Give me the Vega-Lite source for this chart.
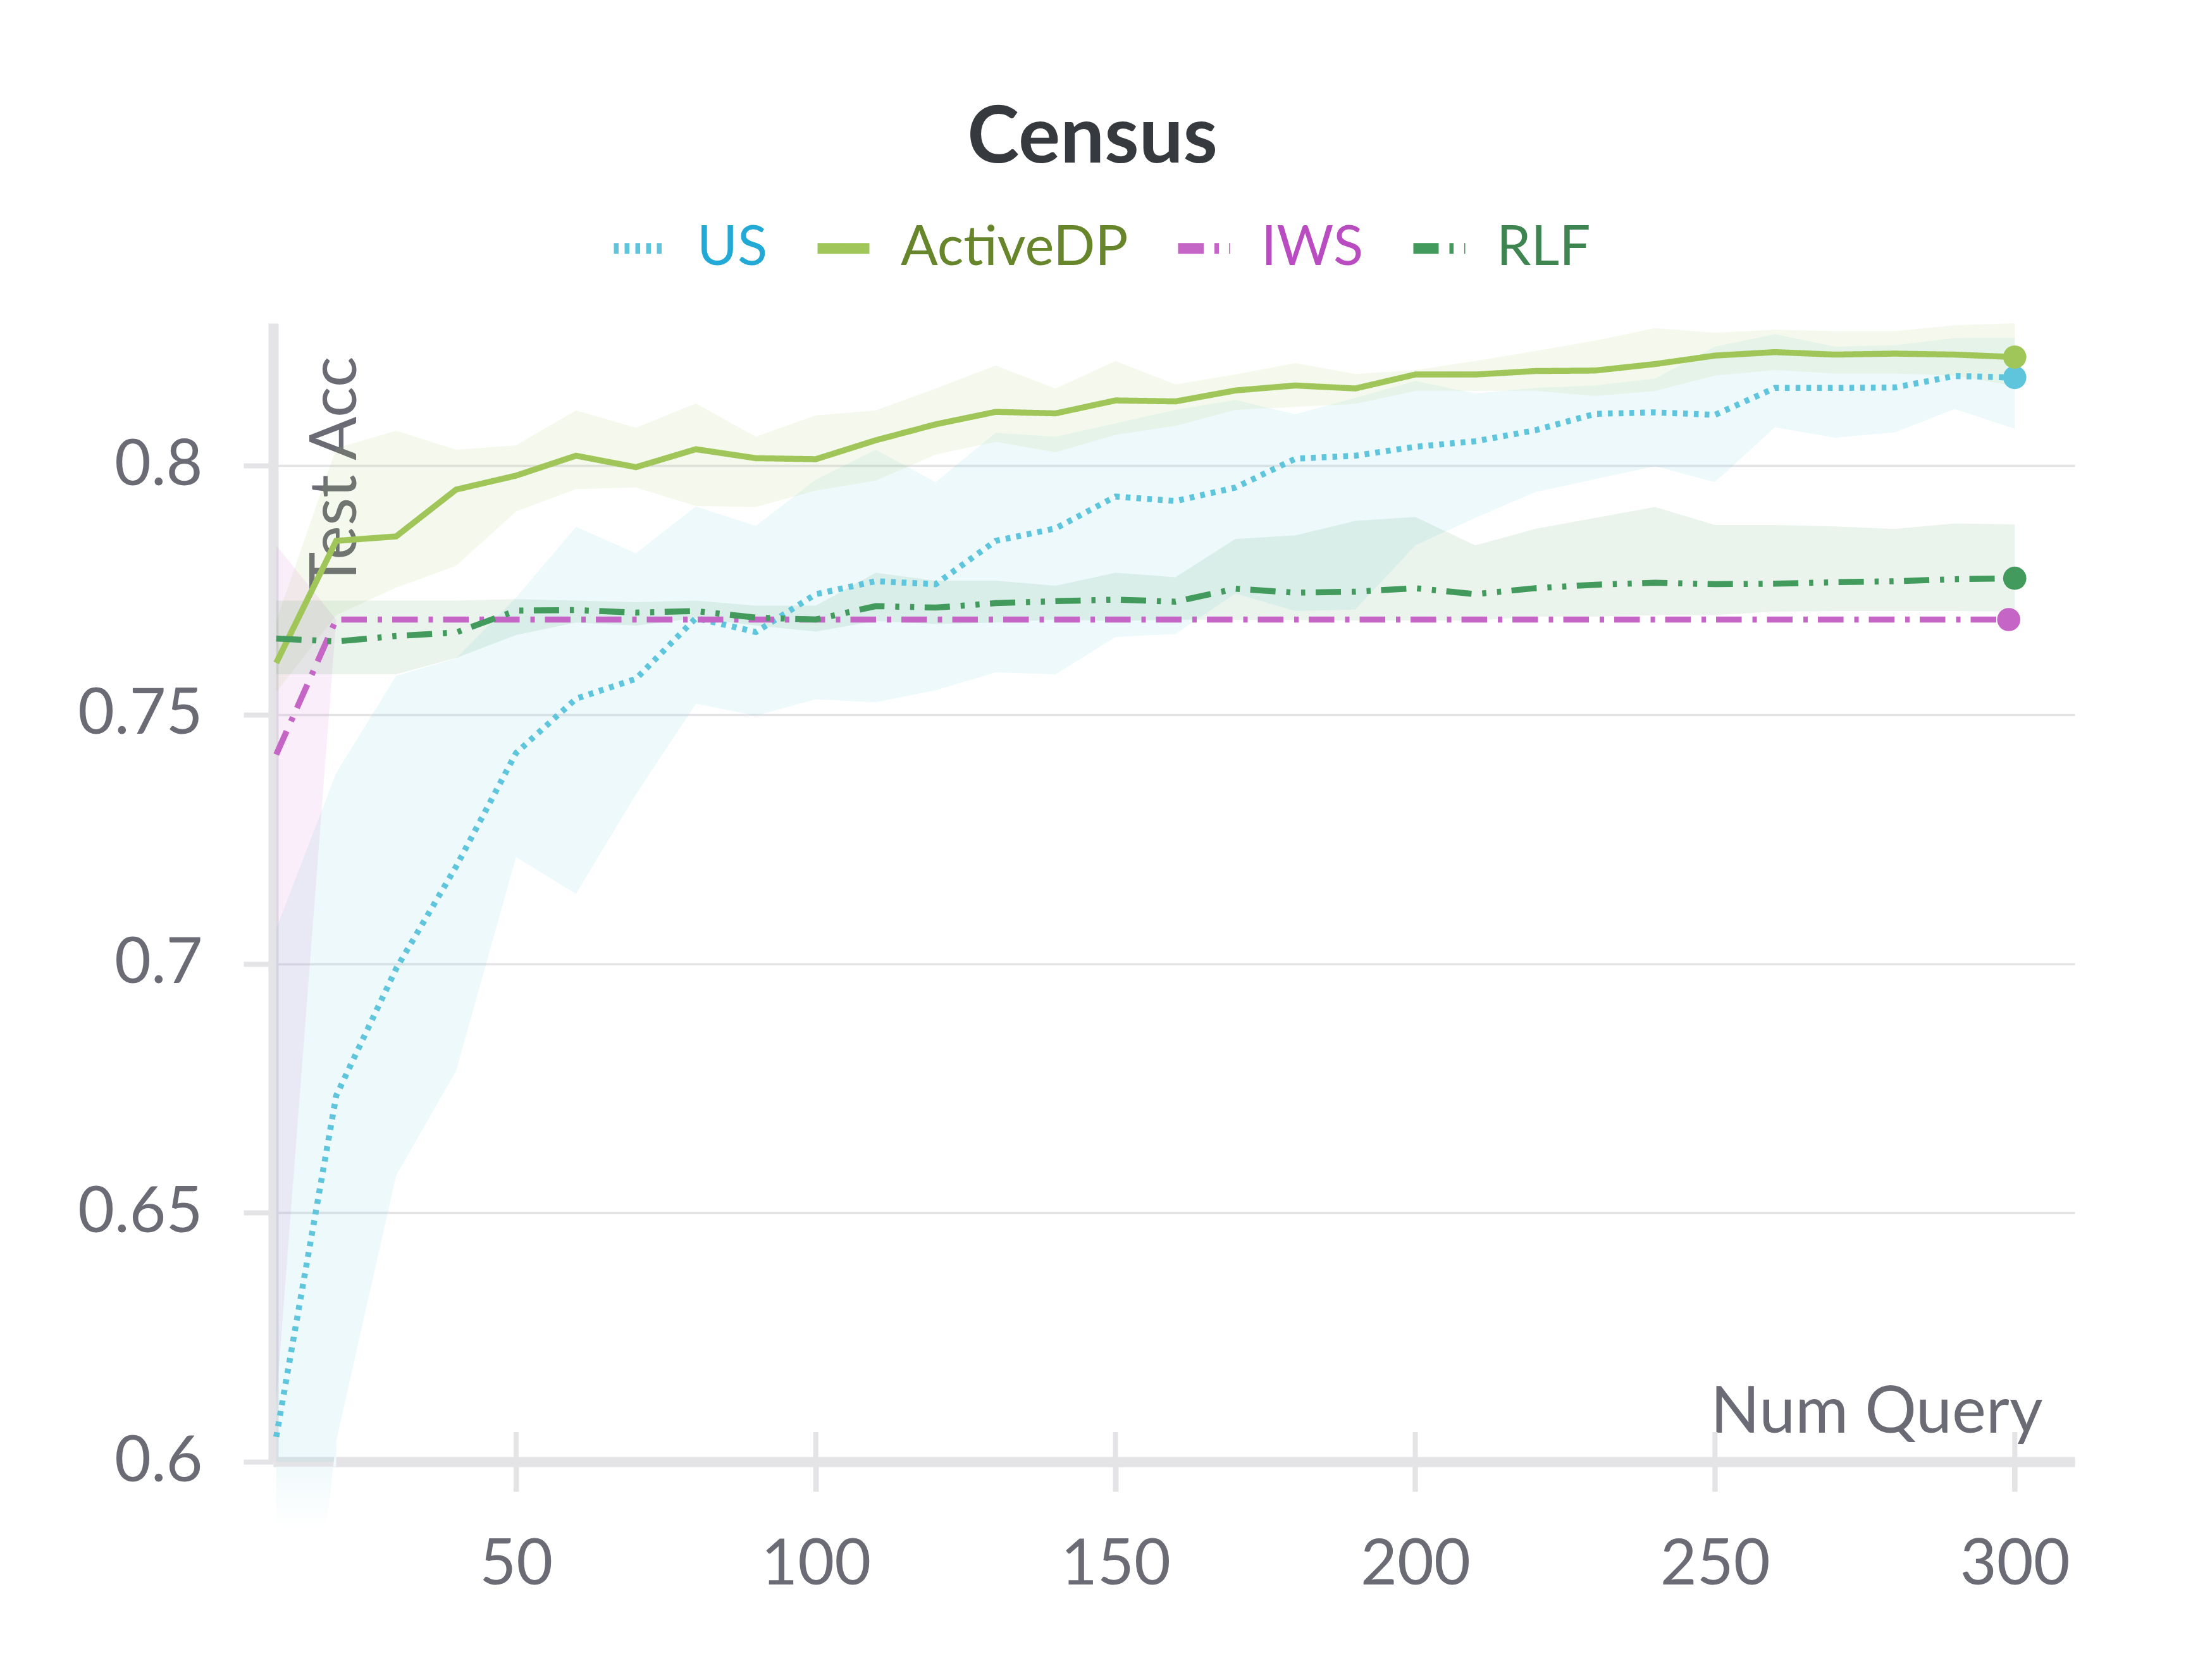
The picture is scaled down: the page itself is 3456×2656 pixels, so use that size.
{
  "$schema": "https://vega.github.io/schema/vega-lite/v6.json",
  "width": 2848,
  "height": 1800,
  "autosize": {"type": "none"},
  "padding": {"left": 432, "top": 511, "right": 176, "bottom": 345},
  "background": "white",
  "title": {"text": "Census", "font": "Lato", "fontSize": 124, "fontWeight": "bold", "color": "#36393d", "anchor": "middle", "frame": "bounds", "offset": 60, "dx": 26},
  "config": {
    "view": {"stroke": null},
    "font": "Lato",
    "axis": {
      "domainColor": "#e4e4e7", "domainWidth": 16,
      "tickColor": "#e4e4e7", "tickWidth": 8, "tickSize": 47,
      "labelFont": "Lato", "labelFontSize": 100, "labelColor": "#6b6b75", "labelLimit": 0,
      "titleFont": "Lato", "titleFontSize": 102, "titleFontWeight": "normal", "titleColor": "#6b6b75",
      "gridColor": "#e4e4e7", "gridWidth": 3.5
    }
  },
  "datasets": {
    "series": [
      {"method": "US", "q": 10, "acc": 0.605, "lo": 0.50, "hi": 0.707},
      {"method": "US", "q": 20, "acc": 0.6735, "lo": 0.6042, "hi": 0.7383},
      {"method": "US", "q": 30, "acc": 0.699, "lo": 0.6575, "hi": 0.7578},
      {"method": "US", "q": 40, "acc": 0.7195, "lo": 0.6785, "hi": 0.7613},
      {"method": "US", "q": 50, "acc": 0.7423, "lo": 0.7214, "hi": 0.7735},
      {"method": "US", "q": 60, "acc": 0.7532, "lo": 0.714, "hi": 0.7877},
      {"method": "US", "q": 70, "acc": 0.7572, "lo": 0.734, "hi": 0.7824},
      {"method": "US", "q": 80, "acc": 0.7694, "lo": 0.7522, "hi": 0.7918},
      {"method": "US", "q": 90, "acc": 0.7666, "lo": 0.7498, "hi": 0.7879},
      {"method": "US", "q": 100, "acc": 0.7742, "lo": 0.7531, "hi": 0.7972},
      {"method": "US", "q": 110, "acc": 0.7768, "lo": 0.7525, "hi": 0.8032},
      {"method": "US", "q": 120, "acc": 0.7762, "lo": 0.7549, "hi": 0.7967},
      {"method": "US", "q": 130, "acc": 0.7849, "lo": 0.7585, "hi": 0.8066},
      {"method": "US", "q": 140, "acc": 0.7874, "lo": 0.7581, "hi": 0.8058},
      {"method": "US", "q": 150, "acc": 0.7938, "lo": 0.7656, "hi": 0.8085},
      {"method": "US", "q": 160, "acc": 0.7929, "lo": 0.7662, "hi": 0.8112},
      {"method": "US", "q": 170, "acc": 0.7956, "lo": 0.7743, "hi": 0.8132},
      {"method": "US", "q": 180, "acc": 0.8014, "lo": 0.7708, "hi": 0.8103},
      {"method": "US", "q": 190, "acc": 0.802, "lo": 0.7711, "hi": 0.8136},
      {"method": "US", "q": 200, "acc": 0.8038, "lo": 0.784, "hi": 0.817},
      {"method": "US", "q": 210, "acc": 0.8049, "lo": 0.7895, "hi": 0.8145},
      {"method": "US", "q": 220, "acc": 0.8071, "lo": 0.7947, "hi": 0.8156},
      {"method": "US", "q": 230, "acc": 0.8104, "lo": 0.7973, "hi": 0.8161},
      {"method": "US", "q": 240, "acc": 0.8107, "lo": 0.7999, "hi": 0.8175},
      {"method": "US", "q": 250, "acc": 0.8102, "lo": 0.7967, "hi": 0.8239},
      {"method": "US", "q": 260, "acc": 0.8156, "lo": 0.8077, "hi": 0.8264},
      {"method": "US", "q": 270, "acc": 0.8156, "lo": 0.8056, "hi": 0.8239},
      {"method": "US", "q": 280, "acc": 0.8157, "lo": 0.8067, "hi": 0.8242},
      {"method": "US", "q": 290, "acc": 0.818, "lo": 0.8114, "hi": 0.8256},
      {"method": "US", "q": 300, "acc": 0.8177, "lo": 0.8074, "hi": 0.8257},

      {"method": "ActiveDP", "q": 10, "acc": 0.7604, "lo": 0.7545, "hi": 0.7688},
      {"method": "ActiveDP", "q": 20, "acc": 0.7849, "lo": 0.77, "hi": 0.8035},
      {"method": "ActiveDP", "q": 30, "acc": 0.7858, "lo": 0.7755, "hi": 0.807},
      {"method": "ActiveDP", "q": 40, "acc": 0.7952, "lo": 0.7799, "hi": 0.8032},
      {"method": "ActiveDP", "q": 50, "acc": 0.798, "lo": 0.7908, "hi": 0.8041},
      {"method": "ActiveDP", "q": 60, "acc": 0.802, "lo": 0.7953, "hi": 0.8111},
      {"method": "ActiveDP", "q": 70, "acc": 0.7997, "lo": 0.7956, "hi": 0.8076},
      {"method": "ActiveDP", "q": 80, "acc": 0.8033, "lo": 0.7919, "hi": 0.8125},
      {"method": "ActiveDP", "q": 90, "acc": 0.8015, "lo": 0.7917, "hi": 0.8058},
      {"method": "ActiveDP", "q": 100, "acc": 0.8013, "lo": 0.795, "hi": 0.8101},
      {"method": "ActiveDP", "q": 110, "acc": 0.8051, "lo": 0.797, "hi": 0.8111},
      {"method": "ActiveDP", "q": 120, "acc": 0.8083, "lo": 0.8022, "hi": 0.8155},
      {"method": "ActiveDP", "q": 130, "acc": 0.8108, "lo": 0.8048, "hi": 0.8201},
      {"method": "ActiveDP", "q": 140, "acc": 0.8105, "lo": 0.8027, "hi": 0.8155},
      {"method": "ActiveDP", "q": 150, "acc": 0.8131, "lo": 0.8062, "hi": 0.821},
      {"method": "ActiveDP", "q": 160, "acc": 0.8129, "lo": 0.808, "hi": 0.8163},
      {"method": "ActiveDP", "q": 170, "acc": 0.8151, "lo": 0.8112, "hi": 0.8183},
      {"method": "ActiveDP", "q": 180, "acc": 0.8161, "lo": 0.8118, "hi": 0.8206},
      {"method": "ActiveDP", "q": 190, "acc": 0.8155, "lo": 0.8124, "hi": 0.8184},
      {"method": "ActiveDP", "q": 200, "acc": 0.8183, "lo": 0.815, "hi": 0.8192},
      {"method": "ActiveDP", "q": 210, "acc": 0.8183, "lo": 0.815, "hi": 0.821},
      {"method": "ActiveDP", "q": 220, "acc": 0.819, "lo": 0.815, "hi": 0.823},
      {"method": "ActiveDP", "q": 230, "acc": 0.8191, "lo": 0.814, "hi": 0.8251},
      {"method": "ActiveDP", "q": 240, "acc": 0.8204, "lo": 0.815, "hi": 0.8276},
      {"method": "ActiveDP", "q": 250, "acc": 0.8221, "lo": 0.8181, "hi": 0.8267},
      {"method": "ActiveDP", "q": 260, "acc": 0.8228, "lo": 0.8192, "hi": 0.8273},
      {"method": "ActiveDP", "q": 270, "acc": 0.8223, "lo": 0.8185, "hi": 0.827},
      {"method": "ActiveDP", "q": 280, "acc": 0.8225, "lo": 0.8185, "hi": 0.827},
      {"method": "ActiveDP", "q": 290, "acc": 0.8223, "lo": 0.8181, "hi": 0.8282},
      {"method": "ActiveDP", "q": 300, "acc": 0.8218, "lo": 0.816, "hi": 0.8286},

      {"method": "IWS", "q": 10, "acc": 0.742, "lo": 0.612, "hi": 0.784},
      {"method": "IWS", "q": 20, "acc": 0.7691, "lo": 0.7691, "hi": 0.7691},
      {"method": "IWS", "q": 30, "acc": 0.7691, "lo": 0.7691, "hi": 0.7691},
      {"method": "IWS", "q": 40, "acc": 0.7691, "lo": 0.7691, "hi": 0.7691},
      {"method": "IWS", "q": 50, "acc": 0.7691, "lo": 0.7691, "hi": 0.7691},
      {"method": "IWS", "q": 60, "acc": 0.7691, "lo": 0.7691, "hi": 0.7691},
      {"method": "IWS", "q": 70, "acc": 0.7691, "lo": 0.7691, "hi": 0.7691},
      {"method": "IWS", "q": 80, "acc": 0.7691, "lo": 0.7691, "hi": 0.7691},
      {"method": "IWS", "q": 90, "acc": 0.7691, "lo": 0.7691, "hi": 0.7691},
      {"method": "IWS", "q": 100, "acc": 0.7691, "lo": 0.7691, "hi": 0.7691},
      {"method": "IWS", "q": 110, "acc": 0.7691, "lo": 0.7691, "hi": 0.7691},
      {"method": "IWS", "q": 120, "acc": 0.7691, "lo": 0.7691, "hi": 0.7691},
      {"method": "IWS", "q": 130, "acc": 0.7691, "lo": 0.7691, "hi": 0.7691},
      {"method": "IWS", "q": 140, "acc": 0.7691, "lo": 0.7691, "hi": 0.7691},
      {"method": "IWS", "q": 150, "acc": 0.7691, "lo": 0.7691, "hi": 0.7691},
      {"method": "IWS", "q": 160, "acc": 0.7691, "lo": 0.7691, "hi": 0.7691},
      {"method": "IWS", "q": 170, "acc": 0.7691, "lo": 0.7691, "hi": 0.7691},
      {"method": "IWS", "q": 180, "acc": 0.7691, "lo": 0.7691, "hi": 0.7691},
      {"method": "IWS", "q": 190, "acc": 0.7691, "lo": 0.7691, "hi": 0.7691},
      {"method": "IWS", "q": 200, "acc": 0.7691, "lo": 0.7691, "hi": 0.7691},
      {"method": "IWS", "q": 210, "acc": 0.7691, "lo": 0.7691, "hi": 0.7691},
      {"method": "IWS", "q": 220, "acc": 0.7691, "lo": 0.7691, "hi": 0.7691},
      {"method": "IWS", "q": 230, "acc": 0.7691, "lo": 0.7691, "hi": 0.7691},
      {"method": "IWS", "q": 240, "acc": 0.7691, "lo": 0.7691, "hi": 0.7691},
      {"method": "IWS", "q": 250, "acc": 0.7691, "lo": 0.7691, "hi": 0.7691},
      {"method": "IWS", "q": 260, "acc": 0.7691, "lo": 0.7691, "hi": 0.7691},
      {"method": "IWS", "q": 270, "acc": 0.7691, "lo": 0.7691, "hi": 0.7691},
      {"method": "IWS", "q": 280, "acc": 0.7691, "lo": 0.7691, "hi": 0.7691},
      {"method": "IWS", "q": 290, "acc": 0.7691, "lo": 0.7691, "hi": 0.7691},
      {"method": "IWS", "q": 299, "acc": 0.7691, "lo": 0.7691, "hi": 0.7691},

      {"method": "RLF", "q": 10, "acc": 0.7653, "lo": 0.7581, "hi": 0.7729},
      {"method": "RLF", "q": 20, "acc": 0.7647, "lo": 0.7581, "hi": 0.7729},
      {"method": "RLF", "q": 30, "acc": 0.7658, "lo": 0.7581, "hi": 0.7729},
      {"method": "RLF", "q": 40, "acc": 0.7665, "lo": 0.7614, "hi": 0.7729},
      {"method": "RLF", "q": 50, "acc": 0.7709, "lo": 0.766, "hi": 0.7732},
      {"method": "RLF", "q": 60, "acc": 0.771, "lo": 0.7685, "hi": 0.7729},
      {"method": "RLF", "q": 70, "acc": 0.7705, "lo": 0.7679, "hi": 0.7726},
      {"method": "RLF", "q": 80, "acc": 0.7708, "lo": 0.7694, "hi": 0.7729},
      {"method": "RLF", "q": 90, "acc": 0.7695, "lo": 0.7679, "hi": 0.7719},
      {"method": "RLF", "q": 100, "acc": 0.7691, "lo": 0.7667, "hi": 0.7719},
      {"method": "RLF", "q": 110, "acc": 0.7718, "lo": 0.7688, "hi": 0.7785},
      {"method": "RLF", "q": 120, "acc": 0.7715, "lo": 0.7682, "hi": 0.7769},
      {"method": "RLF", "q": 130, "acc": 0.7724, "lo": 0.7685, "hi": 0.7769},
      {"method": "RLF", "q": 140, "acc": 0.7728, "lo": 0.7691, "hi": 0.7759},
      {"method": "RLF", "q": 150, "acc": 0.7731, "lo": 0.7688, "hi": 0.7785},
      {"method": "RLF", "q": 160, "acc": 0.7727, "lo": 0.7691, "hi": 0.7776},
      {"method": "RLF", "q": 170, "acc": 0.7753, "lo": 0.769, "hi": 0.7853},
      {"method": "RLF", "q": 180, "acc": 0.7745, "lo": 0.769, "hi": 0.786},
      {"method": "RLF", "q": 190, "acc": 0.7747, "lo": 0.7689, "hi": 0.7889},
      {"method": "RLF", "q": 200, "acc": 0.7754, "lo": 0.7689, "hi": 0.7897},
      {"method": "RLF", "q": 210, "acc": 0.7742, "lo": 0.7689, "hi": 0.784},
      {"method": "RLF", "q": 220, "acc": 0.7754, "lo": 0.7697, "hi": 0.7873},
      {"method": "RLF", "q": 230, "acc": 0.7761, "lo": 0.7697, "hi": 0.7895},
      {"method": "RLF", "q": 240, "acc": 0.7765, "lo": 0.77, "hi": 0.7917},
      {"method": "RLF", "q": 250, "acc": 0.7762, "lo": 0.77, "hi": 0.7881},
      {"method": "RLF", "q": 260, "acc": 0.7763, "lo": 0.7707, "hi": 0.7881},
      {"method": "RLF", "q": 270, "acc": 0.7766, "lo": 0.7708, "hi": 0.7878},
      {"method": "RLF", "q": 280, "acc": 0.7768, "lo": 0.7708, "hi": 0.7873},
      {"method": "RLF", "q": 290, "acc": 0.7772, "lo": 0.7708, "hi": 0.7884},
      {"method": "RLF", "q": 300, "acc": 0.7774, "lo": 0.7707, "hi": 0.7882}
    ],
    "xticks": [{"t": 50}, {"t": 100}, {"t": 150}, {"t": 200}, {"t": 250}, {"t": 300}],
    "yticks": [{"v": 0.6}, {"v": 0.65}, {"v": 0.7}, {"v": 0.75}, {"v": 0.8}]
  },
  "encoding": {
    "x": {
      "field": "q", "type": "quantitative",
      "scale": {"domain": [9.5, 310], "nice": false, "zero": false},
      "axis": {
        "values": [50, 100, 150, 200, 250, 300], "format": "d", "grid": false,
        "labelPadding": 67,
        "title": "Num Query", "titleX": 2797, "titleY": -47, "titleAlign": "right", "titleBaseline": "alphabetic"
      }
    },
    "y": {
      "type": "quantitative",
      "scale": {"domain": [0.6, 0.8286], "nice": false, "zero": false},
      "axis": {
        "values": [0.6, 0.65, 0.7, 0.75, 0.8], "format": "~g", "grid": true,
        "labelPadding": 65,
        "title": "Test Acc", "titleX": 130, "titleY": 52, "titleAngle": 270, "titleAlign": "right", "titleBaseline": "alphabetic"
      }
    }
  },
  "layer": [
    {
      "data": {"name": "series"},
      "mark": {"type": "area", "clip": true, "fillOpacity": 0.11},
      "encoding": {
        "y": {"field": "lo", "type": "quantitative"},
        "y2": {"field": "hi"},
        "color": {
          "field": "method", "type": "nominal",
          "scale": {"domain": ["US", "ActiveDP", "IWS", "RLF"], "range": ["#5ec5dd", "#a0c65a", "#c566c6", "#439a5d"]}
        }
      }
    },
    {
      "data": {"name": "series"},
      "transform": [{"filter": "datum.method === 'US' && datum.q <= 20"}],
      "mark": {
        "type": "area", "clip": false,
        "color": {"gradient": "linear", "x1": 0, "y1": 0, "x2": 0, "y2": 1,
          "stops": [{"offset": 0, "color": "#ebf7fa"}, {"offset": 0.17, "color": "#ffffff"}]}
      },
      "encoding": {
        "y": {"field": "lo", "type": "quantitative"},
        "y2": {"datum": 0.599}
      }
    },
    {
      "data": {"name": "series"},
      "mark": {"type": "line", "strokeWidth": 9.5, "strokeCap": "butt"},
      "encoding": {
        "y": {"field": "acc", "type": "quantitative"},
        "color": {
          "field": "method", "type": "nominal",
          "legend": {
            "orient": "none", "direction": "horizontal", "legendX": 530, "legendY": -168,
            "title": null, "padding": 0,
            "symbolType": "stroke", "symbolSize": 6724, "symbolStrokeWidth": 17,
            "labelFont": "Lato", "labelFontSize": 87, "labelOffset": 41, "columnPadding": 44, "labelLimit": 0,
            "encode": {
              "symbols": {"update": {
                "strokeDash": {"signal": "datum.value === 'US' ? [11, 9, 11, 9, 11, 9, 11, 100] : datum.value === 'IWS' ? [59, 9, 12, 100] : datum.value === 'RLF' ? [38, 12, 9, 12, 11, 100] : [1, 0]"},
                "strokeWidth": {"value": 17},
                "fillOpacity": {"value": 0}
              }},
              "labels": {"update": {
                "fill": {"signal": "datum.value === 'US' ? '#22a9d6' : datum.value === 'ActiveDP' ? '#67862b' : datum.value === 'IWS' ? '#b94cc0' : '#3e8552'"}
              }}
            }
          }
        },
        "strokeDash": {
          "field": "method", "type": "nominal",
          "scale": {"domain": ["US", "ActiveDP", "IWS", "RLF"], "range": [[7.5, 9.5], [1, 0], [40.5, 17, 7, 16], [40, 17, 6.5, 17, 6.5, 16.5]]}
        }
      }
    },
    {
      "data": {"name": "series"},
      "transform": [{"filter": "datum.q >= 299"}],
      "mark": {"type": "point", "filled": true, "size": 1350, "opacity": 1},
      "encoding": {
        "y": {"field": "acc", "type": "quantitative"},
        "color": {"field": "method", "type": "nominal"}
      }
    },
    {
      "data": {"name": "xticks"},
      "mark": {"type": "tick", "orient": "vertical", "size": 94, "thickness": 8, "color": "#e4e4e7", "opacity": 1, "clip": false},
      "encoding": {
        "x": {"field": "t", "type": "quantitative"},
        "y": {"datum": 0.6}
      }
    },
    {
      "data": {"name": "yticks"},
      "mark": {"type": "tick", "orient": "horizontal", "size": 95, "thickness": 8, "color": "#e4e4e7", "opacity": 1, "clip": false},
      "encoding": {
        "x": {"datum": 9.5},
        "y": {"field": "v", "type": "quantitative"}
      }
    }
  ]
}
